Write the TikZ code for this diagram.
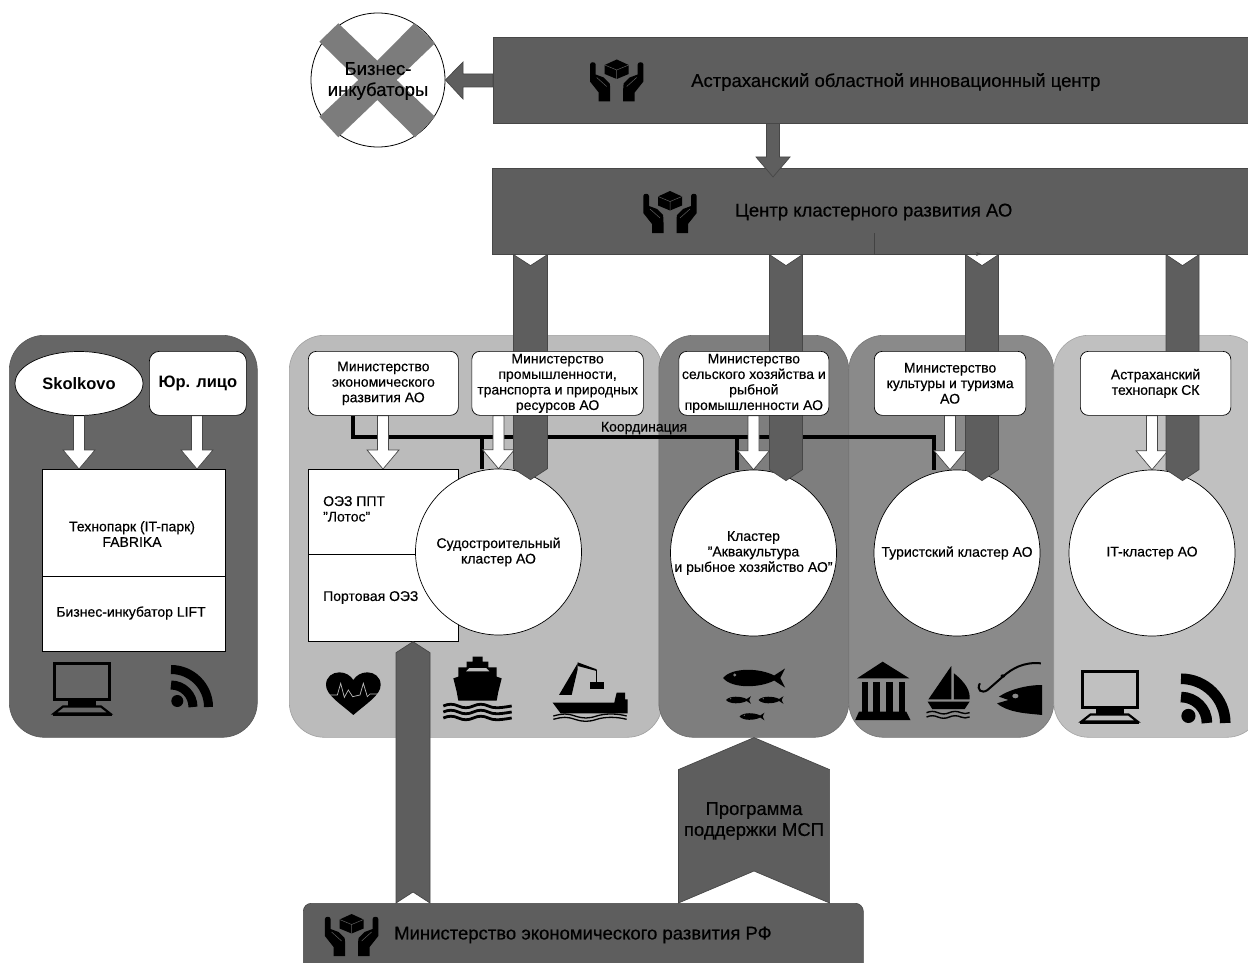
\documentclass[tikz,border=0pt]{standalone}
\usepackage{fontspec}
\setmainfont[UprightFeatures={FakeBold=0.4}]{Liberation Sans}
\usetikzlibrary{calc,arrows.meta,shapes.geometric}
\pgfdeclarelayer{panels}\pgfdeclarelayer{wires}\pgfdeclarelayer{arrows}\pgfdeclarelayer{ribbons}\pgfdeclarelayer{front}
\pgfsetlayers{panels,wires,arrows,main,ribbons,front}
\definecolor{darkbox}{HTML}{5E5E5E}
\definecolor{darkline}{HTML}{474747}
\definecolor{pone}{HTML}{666666}
\definecolor{ptwo}{HTML}{BBBBBB}
\definecolor{pthree}{HTML}{7E7E7E}
\definecolor{pfour}{HTML}{8A8A8A}
\definecolor{pfive}{HTML}{C0C0C0}
\definecolor{crossc}{HTML}{7C7C7C}
\newcommand{\fsmall}{\fontsize{14}{15.5}\selectfont}
\newcommand{\fbig}{\fontsize{18.5}{21}\selectfont}
\newcommand{\fhead}{\fontsize{16.5}{20}\selectfont\bfseries}
\tikzset{
  panel/.style={rounded corners=35pt,draw=#1!85!black,fill=#1,line width=.6pt,minimum height=402pt,anchor=north west,inner sep=0pt},
  darkrect/.style={draw=darkline,fill=darkbox,line width=.6pt,anchor=north west,inner sep=0pt},
  whitebox/.style={draw=black,fill=white,line width=.7pt,rounded corners=8pt,anchor=north west,inner sep=0pt,minimum height=64pt,align=center,font=\fsmall},
  plainrect/.style={draw=black,fill=white,line width=.7pt,anchor=north west,inner sep=0pt},
  clustercircle/.style={draw=black,fill=white,line width=.7pt,circle,minimum size=166pt,inner sep=0pt,align=center,font=\fsmall},
  whitearrow/.style={draw=darkline,fill=white,line width=.7pt,line join=miter},
  ribbon/.style={draw=darkline,fill=darkbox,line width=.7pt},
  txt/.style={inner sep=0pt,align=center,font=\fsmall},
  bigtxt/.style={inner sep=0pt,align=center,font=\fbig},
  coordline/.style={draw=black,line width=3.4pt},
  zoomA/.style={shift={(280,330)},scale=.33333},
  zoomB/.style={shift={(650,640)},xscale=.3814,yscale=.33333},
  pics/hands/.style={code={
    \fill (0,-21) -- (12,-15.5) -- (12,-6.5) -- (0,-1.5) -- (-12,-6.5) -- (-12,-15.5) -- cycle;
    \draw[darkbox,line width=.5pt] (-12,-15.5) -- (0,-10.5) -- (12,-15.5) (0,-10.5) -- (0,-1.5);
    \foreach \s in {-1,1}{
      \fill[xscale=\s] (-26.7,-16) .. controls (-26.7,-19) and (-21,-19) .. (-21,-16) -- (-21,-6) -- (-13,-3) -- (-7,3) .. controls (-6.5,5) and (-6.5,8) .. (-6.5,11) -- (-6.5,21) -- (-18,21) -- (-18,12) -- (-26.7,1) -- cycle;
      \draw[xscale=\s,darkbox,line width=.5pt] (-20,-3) -- (-10,6);
    }
  }},
  pics/computer/.style={code={
    \draw[line width=3pt] (-27.5,-25) rectangle (27.5,11);
    \fill (-14,12) rectangle (14,17);
    \draw[line width=2.2pt,line join=miter] (-19,18) -- (19,18) -- (28,25) -- (-28,25) -- cycle;
    \draw[line width=2.5pt] (-29.5,26.5) -- (29.5,26.5);
  }},
  pics/rss/.style={code={
    \draw[line width=#1pt] (0,-37.5) .. controls (20.7,-37.5) and (37.5,-20.7) .. (37.5,0);
    \draw[line width=#1pt] (0,-22) .. controls (12.1,-22) and (22,-12.1) .. (22,0);
    \fill (6.3,-6) circle[radius=6pt];
  }},
  pics/fishy/.style={code={
    \fill (-1,0) .. controls (-.7,-1.1) and (.2,-1) .. (.65,-.25) -- (1,-.95) -- (.85,0) -- (1,.95) -- (.65,.25) .. controls (.2,1) and (-.7,1.1) .. (-1,0) -- cycle;
    \fill[pthree] (-.62,-.3) circle[x radius=.05,y radius=.16];
  }}
}
\newcommand{\wArrow}[3]{%
  \path (#1,0 |- #2.south) coordinate (as) (#1,0 |- #3.north) coordinate (ae);
  \draw[whitearrow] ($(as)+(-5.5,0)$) -- ($(ae)+(-5.5,-19)$) -- ($(ae)+(-16,-19)$) -- (ae) -- ($(ae)+(16,-19)$) -- ($(ae)+(5.5,-19)$) -- ($(as)+(5.5,0)$) -- cycle;
}
\newcommand{\ribbonDown}[5]{%
  \path (#1,0 |- #4.south) coordinate (rs) (#1,0 |- #5.north) coordinate (re);
  \draw[ribbon] ($(rs)+(-#2,0)$) -- ($(rs)+(0,#3)$) -- ($(rs)+(#2,0)$) -- ($(re)+(#2,0)$) -- ($(re)+(0,#3)$) -- ($(re)+(-#2,0)$) -- cycle;
}
\newcommand{\ribbonUp}[5]{%
  \path (#1,0 |- #4.north) coordinate (rs) (#1,0 |- #5.south) coordinate (re);
  \draw[ribbon] ($(rs)+(-#2,0)$) -- ($(rs)+(0,-#3)$) -- ($(rs)+(#2,0)$) -- ($(re)+(#2,#3)$) -- (re) -- ($(re)+(-#2,#3)$) -- cycle;
}
\begin{document}
\begin{tikzpicture}[x=1pt,y=-1pt]
\useasboundingbox (0,0) rectangle (1248,963);
\begin{pgfonlayer}{panels}
  \fill[white] (0,0) rectangle (1248,963);
  \node[panel=pone,minimum width=248pt] (panelA) at (9,335) {};
  \node[panel=ptwo,minimum width=373pt] (panelB) at (289,335) {};
  \node[panel=pthree,minimum width=190pt] (panelC) at (658.5,335) {};
  \node[panel=pfour,minimum width=205pt] (panelD) at (848.5,335) {};
  \node[panel=pfive,minimum width=208pt] (panelE) at (1053.5,335) {};
\end{pgfonlayer}
% top boxes
\node[darkrect,minimum width=755pt,minimum height=86pt] (aoic) at (493,37) {};
\node[darkrect,minimum width=756pt,minimum height=86pt] (ckr) at (492,168) {};
\node[draw=darkline,fill=darkbox,line width=.6pt,rounded corners=8pt,anchor=north west,inner sep=0pt,minimum width=560pt,minimum height=75pt] (merf) at (303,903) {};
% business incubators
\node[draw=black,fill=white,line width=.8pt,circle,minimum size=134pt,inner sep=0pt] (biz) at (378,80) {};
\fill[crossc] (319.3,41.7) -- (338.3,23.3) -- (377.3,60.7) -- (414.3,23.3) -- (435,43.3) -- (396.7,80) -- (435,116.7) -- (415,137.3) -- (377.3,100) -- (338.3,137.3) -- (319.3,116.7) -- (358.3,80) -- cycle;
\node[bigtxt] (biztext) at (378,81) {Бизнес-\\инкубаторы};
\node[bigtxt,anchor=west] (aoictext) at (691,82) {Астраханский областной инновационный центр};
\node[bigtxt,anchor=west] (ckrtext) at (735,212) {Центр кластерного развития АО};
\node[bigtxt,anchor=west] (merftext) at (394,935) {Министерство экономического развития РФ};
\pic at (616.7,80.5) {hands};
\pic at (670,212) {hands};
\pic at (351.6,935) {hands};
% grey arrows out of the top box
\draw[ribbon] (aoic.west |- 0,74) -- (463,74) -- (463,62) -- (biz.east) -- (463,99) -- (463,87) -- (aoic.west |- 0,87) -- cycle;
\path (773,0 |- aoic.south) coordinate (ds) (773,0 |- ckr.north) coordinate (de);
\draw[ribbon] ($(ds)+(-6.5,0)$) -- ($(de)+(-6.5,-11)$) -- ($(de)+(-17,-11)$) -- ($(de)+(0,9)$) -- ($(de)+(17,-11)$) -- ($(de)+(6.5,-11)$) -- ($(ds)+(6.5,0)$) -- cycle;
% thin stray connector
\coordinate (stubA) at (874,233);
\coordinate (stubB) at (981,254);
% ministry boxes and clusters
\begin{pgfonlayer}{front}
  \node[whitebox,minimum width=150pt] (m1) at (308,351) {Министерство\\экономического\\развития АО};
  \node[whitebox,minimum width=171.5pt] (m2) at (471.5,351) {Министерство\\промышленности,\\транспорта и природных\\ресурсов АО};
  \node[whitebox,minimum width=150pt] (m3) at (678.5,351) {Министерство\\сельского хозяйства и\\рыбной\\промышленности АО};
  \node[whitebox,minimum width=151.5pt] (m4) at (874,351) {Министерство\\культуры и туризма\\АО};
  \node[whitebox,minimum width=150.5pt] (m5) at (1080,351) {Астраханский\\технопарк СК};
  \draw[darkbox!70!black,line width=.7pt,-{Stealth[length=5pt,width=4pt]}] (stubA) |- (stubB);
\end{pgfonlayer}
\node[plainrect,minimum width=150pt,minimum height=85pt] (ozzA) at (308,469) {};
\node[plainrect,minimum width=150pt,minimum height=87pt] (ozzB) at (308,554) {};
\node[clustercircle] (c1) at (498.5,552) {Судостроительный\\кластер АО};
\node[clustercircle] (c2) at (753.5,553) {Кластер\\"Аквакультура\\и рыбное хозяйство АО"};
\node[clustercircle] (c3) at (957,553) {Туристский кластер АО};
\node[clustercircle] (c4) at (1152,553) {IT-кластер АО};
\node[txt,anchor=north west,align=left] (ozztextA) at (323,496) {ОЭЗ ППТ\\"Лотос"};
\node[txt,anchor=west] (ozztextB) at (323,597.5) {Портовая ОЭЗ};
% left panel
\begin{pgfonlayer}{front}
  \node[draw=black,fill=white,line width=.7pt,ellipse,minimum width=128pt,minimum height=64pt,inner sep=0pt,font=\fhead] (sk) at (79,383.5) {Skolkovo};
  \node[whitebox,minimum width=97pt,rounded corners=10pt,font=\fhead] (ul) at (149,351) {\raisebox{-6pt}{Юр. лицо}};
\end{pgfonlayer}
\node[plainrect,minimum width=182.5pt,minimum height=107pt] (fabA) at (42,469) {};
\node[plainrect,minimum width=182.5pt,minimum height=75pt] (fabB) at (42,576) {};
\node[txt] (fabtextA) at (132,534) {Технопарк (IT-парк)\\FABRIKA};
\node[txt] (fabtextB) at (131,613) {Бизнес-инкубатор LIFT};
% coordination line
\begin{pgfonlayer}{wires}
  \coordinate (cA) at (353,437);
  \coordinate (cB) at (482,437);
  \coordinate (cC) at (737,437);
  \coordinate (cD) at (934,437);
  \draw[coordline,line join=miter] (353,0 |- m1.south) -- (cA) -- (cD) -- (934,0 |- c3.north);
  \draw[coordline] (cB) -- (482,0 |- ozzA.north);
  \draw[coordline] (cC) -- (737,0 |- c2.north);
\end{pgfonlayer}
\node[txt,anchor=base] (coordtext) at (644,431.5) {Координация};
% white arrows
\begin{pgfonlayer}{arrows}
  \wArrow{383}{m1}{ozzA}
  \wArrow{498.5}{m2}{c1}
  \wArrow{753.5}{m3}{c2}
  \wArrow{950}{m4}{c3}
  \wArrow{1152}{m5}{c4}
  \wArrow{79}{sk}{fabA}
  \wArrow{197}{ul}{fabA}
\end{pgfonlayer}
% ribbons
\begin{pgfonlayer}{ribbons}
  \ribbonDown{530.5}{17}{11}{ckr}{c1}
  \ribbonDown{786}{16.5}{11}{ckr}{c2}
  \ribbonDown{982}{16.5}{11}{ckr}{c3}
  \ribbonDown{1182.5}{16.5}{11}{ckr}{c4}
  \ribbonUp{413}{17}{11}{merf}{ozzB}
  \ribbonUp{754}{75.6}{32}{merf}{panelC}
  \node[bigtxt] (progtext) at (754,821) {Программа\\поддержки МСП};
\end{pgfonlayer}
% icons panel A
\pic at (82,688.5) {computer};
\pic at (171,707) {rss=9};
% icons panel E
\pic at (1109.5,696.5) {computer};
\pic[scale=1.18] at (1181,723) {rss=10.6};
% heart, ship, crane ship
\begin{scope}[zoomA]
  \fill (220,1155) .. controls (180,1120) and (138,1095) .. (138,1065) .. controls (138,1040) and (158,1027) .. (178,1027) .. controls (197,1027) and (212,1037) .. (220,1050) .. controls (228,1037) and (243,1027) .. (262,1027) .. controls (282,1027) and (302,1040) .. (302,1065) .. controls (302,1095) and (260,1120) .. (220,1155) -- cycle;
  \draw[ptwo,line width=.7pt] (145,1095) -- (172,1095) -- (182,1060) -- (193,1102) -- (205,1080) -- (218,1100) -- (240,1095) -- (250,1060) -- (262,1100) -- (270,1092) -- (295,1092);
  \fill (578,980) -- (608,980) -- (608,995) -- (625,995) -- (625,1012) -- (650,1012) -- (650,1040) -- (665,1045) -- (655,1085) -- (650,1112) -- (535,1112) -- (530,1085) -- (520,1045) -- (535,1040) -- (535,1012) -- (560,1012) -- (560,995) -- (578,995) -- cycle;
  \fill[ptwo] (568,1014) -- (618,1014) -- (628,1024) -- (558,1024) -- cycle;
  \foreach \w in {1128,1146,1164}{
    \draw[line width=2.8pt] (490,\w) .. controls (505,\w-7) and (520,\w-7) .. (535,\w) .. controls (550,\w+7) and (565,\w+7) .. (580,\w) .. controls (595,\w-7) and (610,\w-7) .. (625,\w) .. controls (640,\w+7) and (655,\w+7) .. (695,\w);
  }
  \fill (837,1095) -- (893,1000) -- (893,1018) -- (875,1095) -- cycle;
  \fill (893,997) -- (950,1018) -- (950,1023) -- (893,1008) -- cycle;
  \draw[line width=.8pt] (950,1020) -- (950,1056);
  \fill (930,1056) rectangle (972,1078);
  \fill (818,1118) -- (1003,1118) -- (1005,1108) -- (1010,1088) -- (1035,1088) -- (1035,1108) -- (1043,1108) -- (1043,1150) -- (842,1150) -- cycle;
  \draw[line width=1.3pt] (820,1158) .. controls (850,1150) and (860,1150) .. (885,1158) .. controls (910,1166) and (925,1166) .. (950,1158) .. controls (975,1150) and (1010,1150) .. (1040,1158);
  \draw[line width=1.3pt] (820,1168) .. controls (850,1160) and (860,1160) .. (885,1168) .. controls (910,1176) and (925,1176) .. (950,1168) .. controls (975,1160) and (1010,1160) .. (1040,1168);
\end{scope}
% fish
\pic[xscale=31,yscale=10] at (754,678) {fishy};
\pic[xscale=12.5,yscale=4] at (738.5,700) {fishy};
\pic[xscale=12.5,yscale=4] at (771,700) {fishy};
\pic[xscale=12.5,yscale=4] at (752,716.5) {fishy};
% temple, sailboat, hook and fish
\begin{scope}[zoomB]
  \fill (610,65) -- (680,115) -- (543,115) -- cycle;
  \foreach \a/\b in {555/572,585/603,618/637,652/668}{\fill (\a,125) rectangle (\b,218);}
  \fill (548,215) -- (672,215) -- (683,240) -- (538,240) -- cycle;
  \fill (790,78) -- (790,178) -- (730,178) -- cycle;
  \fill (797,100) .. controls (830,130) and (840,155) .. (838,178) -- (797,178) -- cycle;
  \fill (728,185) -- (838,185) -- (825,207) -- (740,207) -- cycle;
  \foreach \w in {218,231}{
    \draw[line width=1.4pt] (725,\w) .. controls (735,\w-5) and (745,\w-5) .. (755,\w) .. controls (765,\w+5) and (775,\w+5) .. (785,\w) .. controls (795,\w-5) and (805,\w-5) .. (815,\w) .. controls (822,\w+4) and (830,\w+3) .. (838,\w);
  }
  \draw[line width=2pt] (1025,70) .. controls (980,65) and (950,85) .. (925,110) -- (885,150) .. controls (870,162) and (855,150) .. (865,130);
  \fill (925,108) circle[x radius=6,y radius=5];
  \fill (1028,135) -- (1028,225) -- (985,220) .. controls (950,215) and (925,205) .. (910,190) -- (940,180) -- (915,170) .. controls (940,150) and (985,135) .. (1028,135) -- cycle;
  \fill[pfour] (958,168) circle[x radius=8,y radius=7];
\end{scope}
\end{tikzpicture}
\end{document}
